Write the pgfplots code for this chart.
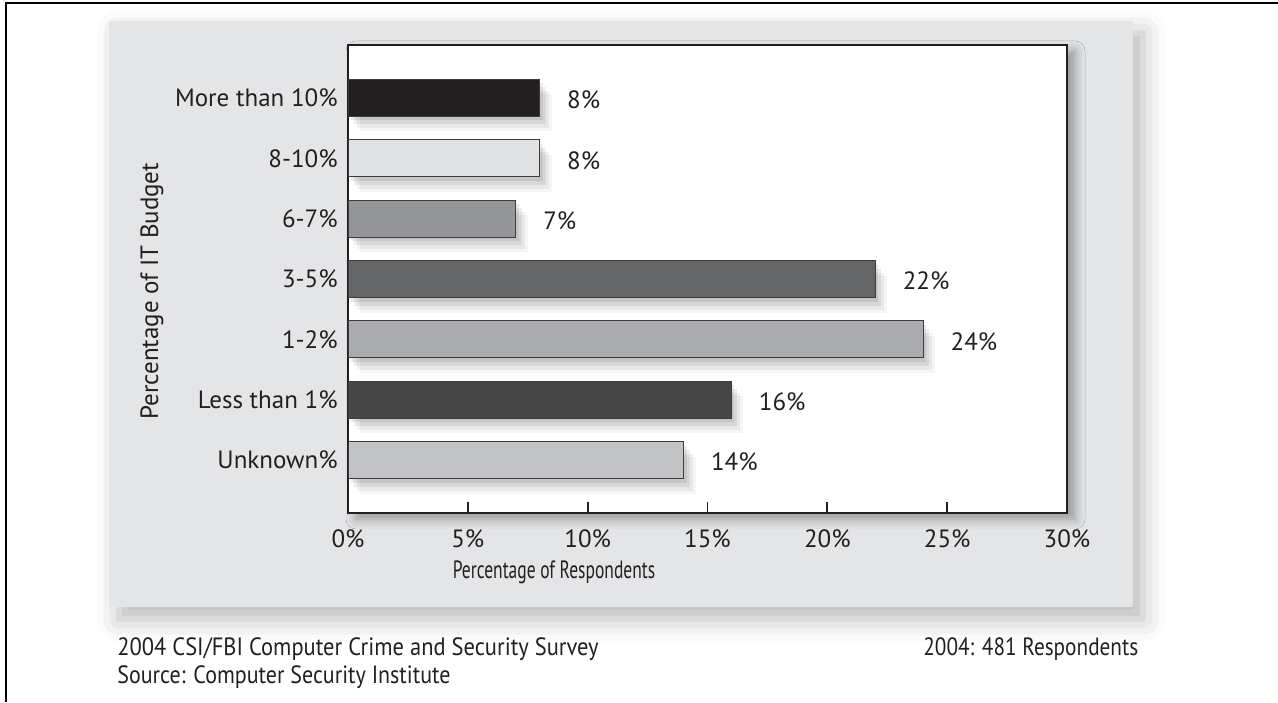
\documentclass[border=0pt]{standalone}
\usepackage{pgfplots}
\pgfplotsset{compat=1.18}
\usepackage{fontspec}
\setmainfont{PT Sans}
\usetikzlibrary{shadows.blur}

\definecolor{ink}{HTML}{231F20}
\definecolor{panel}{HTML}{E4E5E7}
\definecolor{edge}{HTML}{3C3C3E}
\definecolor{cMore}{HTML}{231F20}
\definecolor{cEight}{HTML}{E1E2E4}
\definecolor{cSix}{HTML}{939598}
\definecolor{cThree}{HTML}{646567}
\definecolor{cOne}{HTML}{A9ABAE}
\definecolor{cLess}{HTML}{474747}
\definecolor{cUnk}{HTML}{C2C3C5}

\tikzset{
  sh/.style n args={3}{preaction={draw=none,fill=black,opacity=#3,transform canvas={xshift=#1,yshift=#2}}},
  soft shadow/.style={sh={1.5pt}{-2pt}{0.08},sh={3pt}{-4pt}{0.07},sh={4.5pt}{-6pt}{0.05},sh={6pt}{-7.5pt}{0.04}},
}

\begin{document}
\begin{tikzpicture}[x=0.5pt,y=0.5pt,font=\fontsize{12.5}{15}\selectfont,text=ink]
\useasboundingbox (0,0) rectangle (1278,702);
% outer frame (top and left only)
\draw[line width=1pt,black] (6,0) -- (6,698.5) -- (1278,698.5);
% grey panel
\fill[panel,blur shadow={shadow xshift=5pt,shadow yshift=-6pt,shadow blur radius=11pt,shadow opacity=28}]
  (109,95) rectangle (1133,681);
% plot area backdrop with its shadow
\fill[white,blur shadow={shadow xshift=4pt,shadow yshift=-3pt,shadow blur radius=5pt,shadow opacity=35}]
  (348,189) rectangle (1067,657);

\begin{axis}[
  at={(174pt,94.5pt)}, anchor=south west,
  scale only axis, width=359.5pt, height=234pt,
  xmin=0, xmax=30, ymin=-0.878, ymax=6.878,
  xbar, bar width=18.5pt, bar shift=0pt,
  clip=false,
  axis line style={line width=1.2pt,ink},
  /pgf/number format/assume math mode=true,
  xtick={0,5,...,30}, xtick pos=bottom, tick align=inside,
  major tick length=5.5pt, xtick style={line width=0.9pt,ink},
  xticklabel={\pgfmathprintnumber{\tick}\%},
  xticklabel style={anchor=base,yshift=-17pt},
  ytick={0,...,6}, ytick style={draw=none},
  yticklabels={Unknown\%,Less than 1\%,1-2\%,3-5\%,6-7\%,8-10\%,More than 10\%},
  yticklabel style={anchor=east,inner sep=0pt,xshift=-5pt},
  xlabel={\scalebox{0.7}[1]{Percentage of Respondents}},
  xlabel style={at={(axis description cs:0.2865,-0.139)},anchor=base},
  ylabel={Percentage of IT Budget},
  ylabel style={at={(axis description cs:-0.2726,0.474)},anchor=center},
  every axis plot/.append style={draw=edge,line width=0.5pt,soft shadow},
  nodes near coords={\pgfmathprintnumber{\pgfplotspointmeta}\%},
  nodes near coords style={anchor=west,inner sep=0pt,xshift=13.5pt,yshift=-1pt,text=ink,draw=none},
]
\addplot[fill=cMore]  coordinates {(8,6)};
\addplot[fill=cEight] coordinates {(8,5)};
\addplot[fill=cSix]   coordinates {(7,4)};
\addplot[fill=cThree] coordinates {(22,3)};
\addplot[fill=cOne]   coordinates {(24,2)};
\addplot[fill=cLess]  coordinates {(16,1)};
\addplot[fill=cUnk]   coordinates {(14,0)};
\end{axis}

\node[anchor=base west,inner sep=0pt] at (117,47) {\scalebox{0.9}[1]{2004 CSI/FBI Computer Crime and Security Survey}};
\node[anchor=base west,inner sep=0pt] at (117,19) {\scalebox{0.88}[1]{Source: Computer Security Institute}};
\node[anchor=base west,inner sep=0pt] at (923,47) {\scalebox{0.85}[1]{2004: 481 Respondents}};
\end{tikzpicture}
\end{document}
